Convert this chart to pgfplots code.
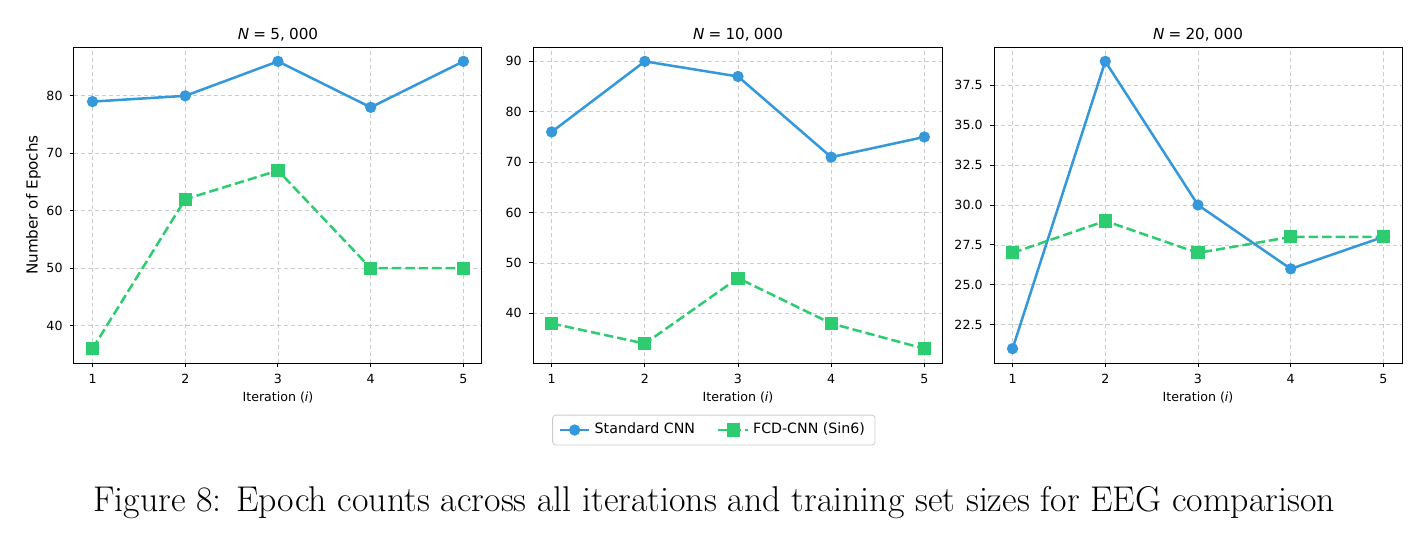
\documentclass[border=0pt]{standalone}
\usepackage{pgfplots}
\pgfplotsset{compat=1.18}
\usepackage{fontspec}
\newfontfamily\djv{DejaVu Sans}
\definecolor{cblue}{HTML}{3498DB}
\definecolor{cgreen}{HTML}{2ECC71}
\pgfplotsset{
  myax/.style={
    scale only axis, width=204pt, height=158pt,
    xmin=0.8, xmax=5.2, xtick={1,2,3,4,5},
    tick align=outside, tick pos=left, major tick length=2.2pt,
    axis line style={line width=0.5pt},
    every tick/.style={black, line width=0.5pt},
    grid=major,
    major grid style={black!20, dash pattern=on 2pt off 1.5pt, line width=0.4pt},
    /pgf/number format/assume math mode=true,
    tick label style={font=\djv\fontsize{6.3}{7}\selectfont},
    xlabel style={font=\djv\fontsize{6.3}{7}\selectfont},
    ylabel style={font=\djv\fontsize{7.6}{9}\selectfont},
    xlabel shift=-3pt, ylabel shift=-4pt,
    title style={font=\djv\fontsize{7.6}{8}\selectfont, at={(0.5,1)}, anchor=south, yshift=-6.5pt},
    xlabel={Iteration (\textit{i})},
    legend image code/.code={\draw[mark repeat=2,mark phase=2] plot coordinates {(0cm,0cm) (0.26cm,0cm) (0.52cm,0cm)};},
    legend style={draw=black!20, rounded corners=1.5pt, font=\djv\fontsize{7.1}{8}\selectfont,
      /tikz/every even column/.append style={column sep=9pt}},
  },
  sCNN/.style={color=cblue, line width=1.26pt, mark=*, mark size=2.5pt, mark options={solid, line width=0.63pt}},
  fCNN/.style={color=cgreen, line width=1.26pt, dash pattern=on 4.7pt off 2pt, mark=square*, mark size=2.95pt, mark options={solid, line width=0.63pt}},
}
\begin{document}
\begin{tikzpicture}
\useasboundingbox (0,0) rectangle (712.5pt,-269pt);
% N = 5000
\begin{axis}[myax, at={(37pt,-23.5pt)}, anchor=north west,
  ymin=33.5, ymax=88.5, ytick={40,50,60,70,80},
  ylabel={Number of Epochs},
  title={\textit{N}\;=\;5,\;000}]
\addplot[sCNN] coordinates {(1,79) (2,80) (3,86) (4,78) (5,86)};
\addplot[fCNN] coordinates {(1,36) (2,62) (3,67) (4,50) (5,50)};
\end{axis}
% N = 10000
\begin{axis}[myax, at={(266.5pt,-23.5pt)}, anchor=north west, width=205pt,
  ymin=30.15, ymax=92.85, ytick={40,50,60,70,80,90},
  title={\textit{N}\;=\;10,\;000},
  legend style={at={(0.441,-0.212)}, anchor=center, legend columns=2}]
\addplot[sCNN] coordinates {(1,76) (2,90) (3,87) (4,71) (5,75)};
\addlegendentry{Standard CNN}
\addplot[fCNN] coordinates {(1,38) (2,34) (3,47) (4,38) (5,33)};
\addlegendentry{FCD-CNN (Sin6)}
\end{axis}
% N = 20000
\begin{axis}[myax, at={(497pt,-23.5pt)}, anchor=north west,
  ymin=20.1, ymax=39.9, ytick={22.5,25,27.5,30,32.5,35,37.5},
  yticklabel style={/pgf/number format/.cd, fixed, fixed zerofill, precision=1},
  title={\textit{N}\;=\;20,\;000}]
\addplot[sCNN] coordinates {(1,21) (2,39) (3,30) (4,26) (5,28)};
\addplot[fCNN] coordinates {(1,27) (2,29) (3,27) (4,28) (5,28)};
\end{axis}
\node[font=\fontsize{17.9}{21}\selectfont] at (357pt,-251.5pt)
  {Figure 8: Epoch counts across all iterations and training set sizes for EEG comparison};
\end{tikzpicture}
\end{document}
